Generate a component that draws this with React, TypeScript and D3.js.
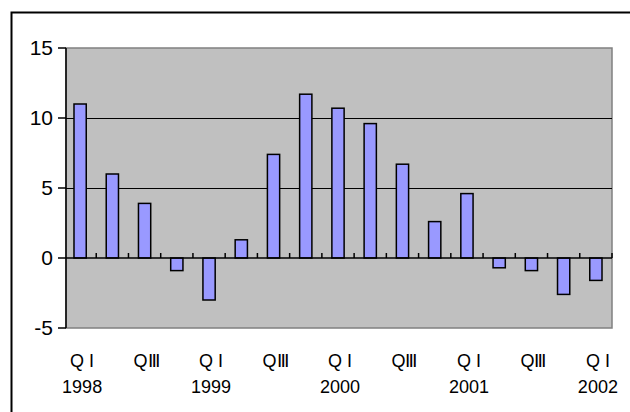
import * as d3 from "d3";
import React, { useEffect, useRef } from "react";

const years = ["1998", "1999", "2000", "2001", "2002"];
const quarterLabels = ["Q I", "Q II", "QⅢ", "Q IV"];
const values = [11.0, 6.0, 3.9, -0.9, -3.0, 1.3, 7.4, 11.7, 10.7, 9.6, 6.7, 2.6, 4.6, -0.7, -0.9, -2.6, -1.6];
const yTicks = [-5, 0, 5, 10, 15];

const width = 630;
const height = 412;
const plot = { left: 66, right: 612, top: 48, bottom: 328 };
const font = "'Liberation Sans', Arial, sans-serif";

// 1998 Q1 .. 2002 Q1
const categories = values.map((_, i) => ({
    key: `${years[Math.floor(i / 4)]}-${i % 4}`,
    quarter: quarterLabels[i % 4],
    year: i % 4 === 0 ? years[Math.floor(i / 4)] : "",
}));

const App: React.FC = () => {
    const wrapper = useRef<SVGSVGElement>(null);

    useEffect(() => {
        if (!wrapper.current) return;
        const chart = d3.select(wrapper.current);
        chart.selectAll("*").remove();

        const x = d3.scaleBand()
            .domain(categories.map((c) => c.key))
            .range([plot.left - 2, plot.right])
            .paddingInner(0.62)
            .paddingOuter(0.31);
        const step = x.step();
        const y = d3.scaleLinear().domain([-5, 15]).range([plot.bottom, plot.top]);

        // outer frame (only left and top edges fall inside the picture)
        chart.append("path")
            .attr("d", `M11.5,${height} V12.5 H${width}`)
            .attr("fill", "none")
            .attr("stroke", "#000")
            .attr("stroke-width", 2);

        // plot area
        chart.append("rect")
            .attr("x", plot.left).attr("y", plot.top)
            .attr("width", plot.right - plot.left).attr("height", plot.bottom - plot.top)
            .attr("fill", "#c0c0c0")
            .attr("stroke", "#808080")
            .attr("stroke-width", 1.5);

        // gridlines
        chart.selectAll(null)
            .data(yTicks.filter((t) => t > 0 && t < 15))
            .enter()
            .append("line")
            .attr("x1", plot.left).attr("x2", plot.right)
            .attr("y1", (d) => Math.round(y(d)) + 0.5).attr("y2", (d) => Math.round(y(d)) + 0.5)
            .attr("stroke", "#000");

        // bars
        chart.selectAll(null)
            .data(values)
            .enter()
            .append("rect")
            .attr("x", (_, i) => x(categories[i].key) as number)
            .attr("width", x.bandwidth())
            .attr("y", (d) => y(Math.max(0, d)))
            .attr("height", (d) => Math.abs(y(d) - y(0)))
            .attr("fill", "#9999ff")
            .attr("stroke", "#000")
            .attr("stroke-width", 1.5);

        // y axis
        chart.append("line")
            .attr("x1", plot.left).attr("x2", plot.left)
            .attr("y1", plot.top).attr("y2", plot.bottom)
            .attr("stroke", "#000").attr("stroke-width", 1.5);

        const yAxis = chart.selectAll(null)
            .data(yTicks)
            .enter()
            .append("g")
            .attr("transform", (d) => `translate(0, ${y(d)})`);
        yAxis.append("line")
            .attr("x1", 58).attr("x2", plot.left)
            .attr("stroke", "#000").attr("stroke-width", 1.5);
        yAxis.append("text")
            .attr("x", 53)
            .attr("dy", "0.35em")
            .attr("text-anchor", "end")
            .style("font-family", font)
            .style("font-size", "21px")
            .text((d) => d);

        // category axis on zero
        chart.append("line")
            .attr("x1", plot.left).attr("x2", plot.right)
            .attr("y1", y(0)).attr("y2", y(0))
            .attr("stroke", "#000").attr("stroke-width", 1.5);

        chart.selectAll(null)
            .data(d3.range(1, categories.length + 1))
            .enter()
            .append("line")
            .attr("x1", (i) => plot.left - 2 + i * step)
            .attr("x2", (i) => plot.left - 2 + i * step)
            .attr("y1", y(0) - 5).attr("y2", y(0))
            .attr("stroke", "#000").attr("stroke-width", 1.5);

        const labels = chart.selectAll(null)
            .data(categories.filter((_, i) => i % 2 === 0))
            .enter()
            .append("g")
            .attr("transform", (d) => `translate(${(x(d.key) as number) + x.bandwidth() / 2 + 2}, 0)`)
            .style("font-family", font)
            .style("font-size", "18px");
        labels.append("text")
            .attr("y", 367)
            .attr("text-anchor", "middle")
            .text((d) => d.quarter);
        labels.append("text")
            .attr("y", 393)
            .attr("text-anchor", "middle")
            .text((d) => d.year);
    }, []);

    return (
        <svg
            ref={wrapper}
            width={width}
            height={height}
            viewBox={`0 0 ${width} ${height}`}
            style={{ position: "absolute", left: 0, top: 0, background: "#fff" }}
        />
    );
};

export default App;
